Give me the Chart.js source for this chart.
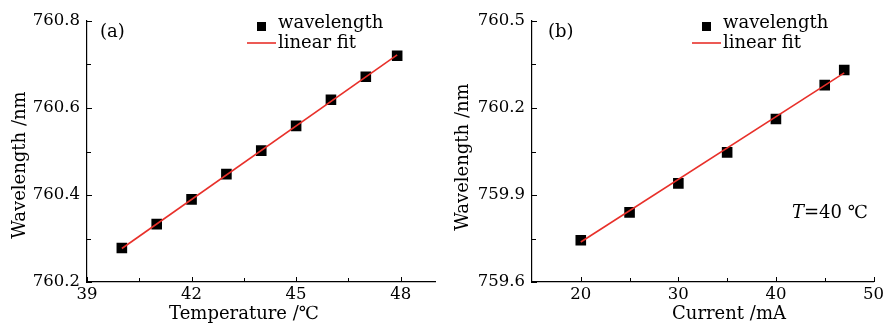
<!DOCTYPE html>
<html>
<head>
<meta charset="utf-8">
<script src="https://cdn.jsdelivr.net/npm/chart.js@4"></script>
<style>
  body { margin: 0; background: #fff; }
  .wrap { position: absolute; top: 0; height: 326px; }
  #wa { left: 0; width: 443px; }
  #wb { left: 443px; width: 444px; }
</style>
</head>
<body>
<div class="wrap" id="wa"><canvas id="chartA"></canvas></div>
<div class="wrap" id="wb"><canvas id="chartB"></canvas></div>
<script>
// panel (a): wavelength vs temperature
const tempC = [40, 41, 42, 43, 44, 45, 46, 47, 47.9];
const tempWl = [760.278, 760.333, 760.390, 760.448, 760.502, 760.559, 760.619, 760.672, 760.720];
const tempFitX = [40, 47.9];
const tempFitY = [760.277, 760.722];
const tempTicksX = [39, 42, 45, 48];
const tempMinorX = [40.5, 43.5, 46.5];
const tempTicksY = [760.2, 760.4, 760.6, 760.8];
const tempMinorY = [760.3, 760.5, 760.7];

// panel (b): wavelength vs current
const currentMA = [20, 25, 30, 35, 40, 45, 47];
const currentWl = [759.744, 759.840, 759.940, 760.047, 760.162, 760.279, 760.331];
const currentFitX = [20, 47];
const currentFitY = [759.738, 760.321];
const currentTicksX = [20, 30, 40, 50];
const currentMinorX = [25, 35, 45];
const currentTicksY = [759.6, 759.9, 760.2, 760.5];
const currentMinorY = [759.75, 760.05, 760.35];

const FONT = '"DejaVu Serif", "Liberation Serif", serif';
const RED = '#e8302a';

function pts(xs, ys) {
    return xs.map((x, i) => ({ x: x, y: ys[i] }));
}

// inward tick marks, major and minor
const inwardTicks = {
    id: 'inwardTicks',
    afterDraw(chart, args, opts) {
        const ctx = chart.ctx;
        const a = chart.chartArea;
        const sx = chart.scales.x, sy = chart.scales.y;
        ctx.save();
        ctx.strokeStyle = '#000';
        ctx.lineWidth = 1;
        ctx.beginPath();
        const tx = (list, len) => list.forEach(v => {
            const p = Math.round(sx.getPixelForValue(v)) + 0.5;
            ctx.moveTo(p, a.bottom); ctx.lineTo(p, a.bottom - len);
        });
        const ty = (list, len) => list.forEach(v => {
            const p = Math.round(sy.getPixelForValue(v)) + 0.5;
            ctx.moveTo(a.left, p); ctx.lineTo(a.left + len, p);
        });
        tx(opts.majorX, 5); tx(opts.minorX, 4);
        ty(opts.majorY, 5); ty(opts.minorY, 4);
        ctx.stroke();
        ctx.restore();
    }
};

// legend, panel labels and axis titles
const notes = {
    id: 'notes',
    afterDraw(chart, args, opts) {
        const ctx = chart.ctx;
        ctx.save();
        ctx.fillStyle = '#000';
        ctx.textBaseline = 'middle';
        ctx.font = '18px ' + FONT;
        ctx.fillText(opts.tag, opts.tagX, 32);
        const lx = opts.legX;
        ctx.fillRect(lx + 10, 22, 9, 9);
        ctx.fillText('wavelength', lx + 31, 23);
        ctx.strokeStyle = RED;
        ctx.lineWidth = 1.6;
        ctx.beginPath();
        ctx.moveTo(lx, 43); ctx.lineTo(lx + 29, 43);
        ctx.stroke();
        ctx.fillText('linear fit', lx + 31, 43);

        ctx.textAlign = 'center';
        ctx.fillText(opts.xTitle, opts.xTitleX, 314);
        ctx.save();
        ctx.translate(20, opts.yTitleY);
        ctx.rotate(-Math.PI / 2);
        ctx.fillText('Wavelength /nm', 0, 0);
        ctx.restore();
        ctx.textAlign = 'left';

        if (opts.extra) {
            ctx.font = 'italic 18px ' + FONT;
            ctx.fillText('T', opts.extra.x, opts.extra.y);
            const w = ctx.measureText('T').width;
            ctx.font = '18px ' + FONT;
            ctx.fillText('=40 ℃', opts.extra.x + w, opts.extra.y);
        }
        ctx.restore();
    }
};

function makeChart(id, cfg) {
    return new Chart(document.getElementById(id), {
        data: {
            datasets: [
                { type: 'scatter', label: 'wavelength', data: pts(cfg.x, cfg.y), order: 2,
                  pointStyle: 'rect', pointRadius: 7.5, pointHoverRadius: 7.5,
                  backgroundColor: '#000', borderColor: '#000', borderWidth: 0 },
                { type: 'line', label: 'linear fit', data: pts(cfg.fx, cfg.fy), order: 1,
                  borderColor: RED, borderWidth: 1.6, pointRadius: 0, fill: false }
            ]
        },
        options: {
            responsive: true,
            maintainAspectRatio: false,
            animation: false,
            layout: { padding: { top: 21, right: 5, left: 0, bottom: 0 } },
            plugins: {
                legend: { display: false },
                tooltip: { enabled: false },
                inwardTicks: { majorX: cfg.ticksX, minorX: cfg.minorX, majorY: cfg.ticksY, minorY: cfg.minorY },
                notes: cfg.notes
            },
            scales: {
                x: {
                    type: 'linear', min: cfg.xmin, max: cfg.xmax,
                    afterBuildTicks: s => { s.ticks = cfg.ticksX.map(v => ({ value: v })); },
                    afterFit: s => { s.height = 44; },
                    grid: { display: false, drawTicks: false },
                    border: { display: true, color: '#000', width: 1.2 },
                    ticks: { color: '#000', font: { family: FONT, size: 16.5 }, padding: 3, maxRotation: 0 }
                },
                y: {
                    type: 'linear', min: cfg.ymin, max: cfg.ymax,
                    afterBuildTicks: s => { s.ticks = cfg.ticksY.map(v => ({ value: v })); },
                    afterFit: s => { s.width = cfg.yw; },
                    grid: { display: false, drawTicks: false },
                    border: { display: true, color: '#000', width: 1.2 },
                    ticks: { color: '#000', font: { family: FONT, size: 16.5 }, padding: 7,
                             callback: v => v.toFixed(1) }
                }
            }
        },
        plugins: [inwardTicks, notes]
    });
}

makeChart('chartA', {
    x: tempC, y: tempWl, fx: tempFitX, fy: tempFitY,
    xmin: 39, xmax: 49, ymin: 760.2, ymax: 760.8,
    ticksX: tempTicksX, minorX: tempMinorX, ticksY: tempTicksY, minorY: tempMinorY, yw: 87,
    notes: { tag: '(a)', tagX: 100, legX: 247, xTitle: 'Temperature /℃', xTitleX: 244, yTitleY: 165 }
});

makeChart('chartB', {
    x: currentMA, y: currentWl, fx: currentFitX, fy: currentFitY,
    xmin: 15, xmax: 50, ymin: 759.6, ymax: 760.5,
    ticksX: currentTicksX, minorX: currentMinorX, ticksY: currentTicksY, minorY: currentMinorY, yw: 89,
    notes: { tag: '(b)', tagX: 105, legX: 249, xTitle: 'Current /mA', xTitleX: 286, yTitleY: 157,
             extra: { x: 349, y: 213 } }
});
</script>
</body>
</html>
